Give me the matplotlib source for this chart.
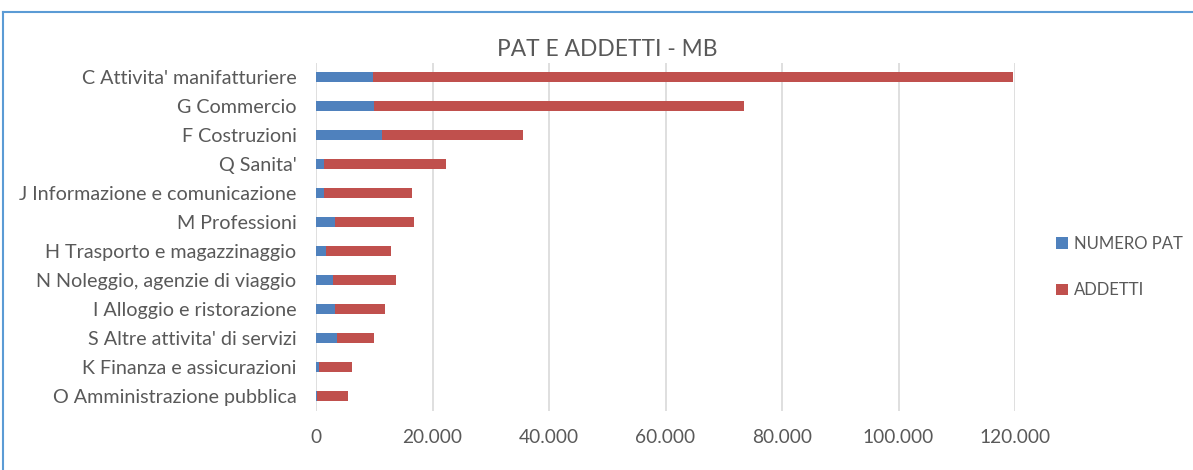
import matplotlib
matplotlib.use("Agg")
import matplotlib.pyplot as plt
from matplotlib.lines import Line2D

categories = [
    "C Attivita' manifatturiere",
    "G Commercio",
    "F Costruzioni",
    "Q Sanita'",
    "J Informazione e comunicazione",
    "M Professioni",
    "H Trasporto e magazzinaggio",
    "N Noleggio, agenzie di viaggio",
    "I Alloggio e ristorazione",
    "S Altre attivita' di servizi",
    "K Finanza e assicurazioni",
    "O Amministrazione pubblica",
]
numero_pat = [9700, 10000, 11400, 1400, 1400, 3200, 1800, 2900, 3200, 3550, 450, 200]
addetti = [110000, 63500, 24200, 21000, 15100, 13600, 11000, 10800, 8700, 6350, 5700, 5350]
xticks = [0, 20000, 40000, 60000, 80000, 100000, 120000]
xtick_labels = ["0", "20.000", "40.000", "60.000", "80.000", "100.000", "120.000"]

plt.rcParams['font.family'] = ['Lato', 'DejaVu Sans']
text_color = "#595959"
blue = "#4F81BD"
red = "#C0504D"

fig = plt.figure(figsize=(11.93, 4.70), dpi=100)
ax = fig.add_axes([316/1193, 1-410.5/470, (1015-316)/1193, (410.5-62.5)/470])

y = list(range(len(categories)))
h = 0.32
ax.barh(y, numero_pat, height=h, color=blue, label="NUMERO PAT", zorder=3)
ax.barh(y, addetti, left=numero_pat, height=h, color=red, label="ADDETTI", zorder=3)

ax.set_ylim(len(categories)-0.5, -0.5)
ax.set_xlim(0, 120000)
ax.set_yticks(y)
ax.set_yticklabels(categories, fontsize=14.2, color=text_color)
ax.set_xticks(xticks)
ax.set_xticklabels(xtick_labels, fontsize=13.8, color=text_color)
ax.tick_params(axis='both', length=0)
ax.tick_params(axis='y', pad=14)
ax.tick_params(axis='x', pad=13)
ax.grid(axis='x', color="#d9d9d9", linewidth=1.2, zorder=0)
for s in ax.spines.values():
    s.set_visible(False)

fig.text(607/1193, 1-50/470, "PAT E ADDETTI - MB", ha='center', va='center',
         fontsize=16.4, color=text_color)

leg = fig.legend(loc='center left', bbox_to_anchor=(1041/1193, 1-267/470),
                 frameon=False, fontsize=12, handlelength=0.7, handleheight=0.7,
                 handletextpad=0.4, labelspacing=1.85)
for t in leg.get_texts():
    t.set_color(text_color)

border = "#5B9BD5"
fig.add_artist(Line2D([3/1193, 1], [1-12/470, 1-12/470], color=border, linewidth=1.5))
fig.add_artist(Line2D([3/1193, 3/1193], [0, 1-12/470], color=border, linewidth=1.5))

fig.savefig("out.png", dpi=100)
